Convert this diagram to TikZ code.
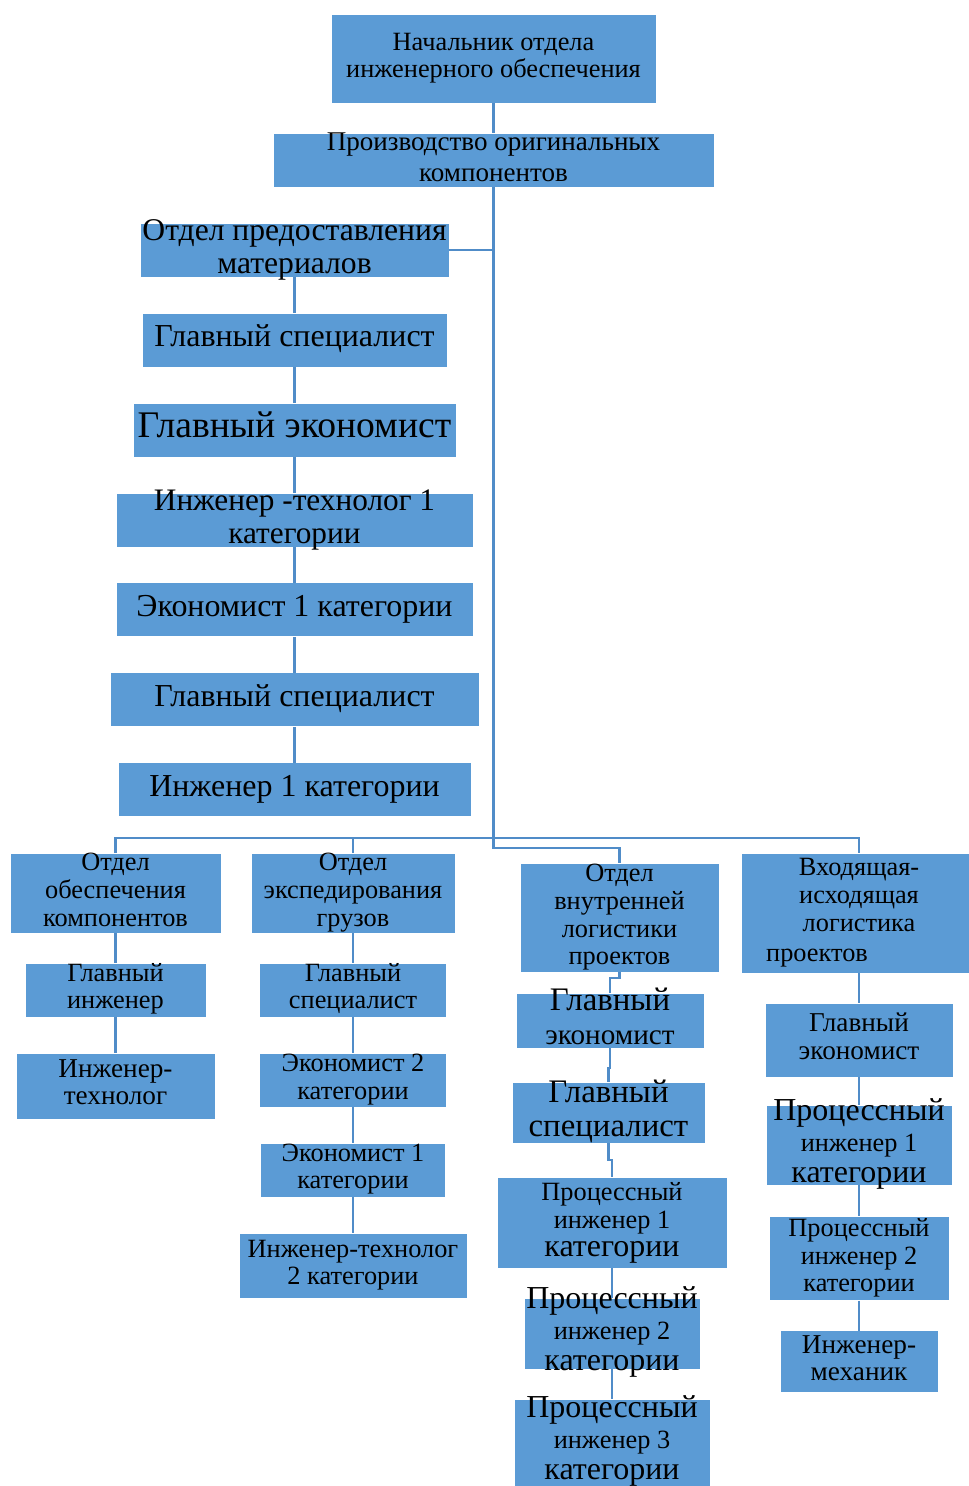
\documentclass[tikz,border=0pt]{standalone}
\usepackage{fontspec}
\setmainfont{Liberation Serif}
\usetikzlibrary{positioning}
\definecolor{boxblue}{RGB}{91,155,213}
\definecolor{lineblue}{RGB}{80,140,200}
% text centred in a box of fixed size, may overflow it
\newcommand{\boxtext}[3]{\raisebox{\dimexpr(\depth-\height)/2\relax}[0pt][0pt]{\fontsize{#1}{#2}\selectfont\begin{tabular}{@{}c@{}}#3\end{tabular}}}
\newcommand{\bigline}[1]{{\fontsize{18.2}{19}\selectfont #1}}

\begin{document}
\begin{tikzpicture}[
    x=0.02cm, y=-0.02cm,
    node distance=0.72cm,
    box/.style={rectangle, draw=white, line width=0.5pt, fill=boxblue, inner sep=0pt, outer sep=0pt, text=black},
    link/.style={draw=lineblue, line width=1.4pt}
]
    \useasboundingbox (0,0) rectangle (968,1486);

    % top of the tree
    \node (boss) [box, minimum width=6.5cm, minimum height=1.78cm] at (493.5,58.5) {\boxtext{15}{15.4}{Начальник отдела\\инженерного обеспечения}};
    \node (prod) [box, minimum width=8.82cm, minimum height=1.08cm] at (493.5,160) {\boxtext{15.4}{17.6}{Производство оригинальных\\компонентов}};

    % left chain
    \node (otd) [box, minimum width=6.18cm, minimum height=1.08cm] at (294.5,250) {\boxtext{18}{18.8}{Отдел предоставления\\материалов}};
    \node (gs1) [box, minimum width=6.1cm, minimum height=1.08cm, below=of otd] {\boxtext{18.2}{19}{Главный специалист}};
    \node (ge1) [box, minimum width=6.46cm, minimum height=1.08cm, below=of gs1] {\boxtext{21.4}{22}{Главный экономист}};
    \node (it1) [box, minimum width=7.14cm, minimum height=1.08cm, below=of ge1] {\boxtext{17.8}{18.8}{Инженер -технолог 1\\категории}};
    \node (ek1) [box, minimum width=7.14cm, minimum height=1.08cm, below=of it1] {\boxtext{18.2}{19}{Экономист 1 категории}};
    \node (gs2) [box, minimum width=7.38cm, minimum height=1.08cm, below=of ek1] {\boxtext{18.2}{19}{Главный специалист}};
    \node (in1) [box, minimum width=7.06cm, minimum height=1.08cm, below=of gs2] {\boxtext{18.2}{19}{Инженер 1 категории}};

    % column 1
    \node (ob) [box, minimum width=4.22cm, minimum height=1.6cm] at (115.5,893) {\boxtext{15}{15.9}{Отдел\\обеспечения\\компонентов}};
    \node (gi) [box, minimum width=3.62cm, minimum height=1.08cm, below=0.6cm of ob] {\boxtext{15}{15.4}{Главный\\инженер}};
    \node (it) [box, minimum width=3.98cm, minimum height=1.32cm, below=of gi] {\boxtext{15.5}{15.4}{Инженер-\\технолог}};

    % column 2
    \node (ex) [box, minimum width=4.08cm, minimum height=1.6cm] at (353,893) {\boxtext{15}{15.9}{Отдел\\экспедирования\\грузов}};
    \node (gs) [box, minimum width=3.74cm, minimum height=1.08cm, below=0.6cm of ex] {\boxtext{15}{15.4}{Главный\\специалист}};
    \node (ek2) [box, minimum width=3.74cm, minimum height=1.08cm, below=of gs] {\boxtext{15}{15.9}{Экономист 2\\категории}};
    \node (ek3) [box, minimum width=3.7cm, minimum height=1.08cm, below=of ek2] {\boxtext{15}{15.4}{Экономист 1\\категории}};
    \node (it2) [box, minimum width=4.56cm, minimum height=1.32cm, below=of ek3] {\boxtext{15}{15.4}{Инженер-технолог\\2 категории}};

    % column 3
    \node (vn) [box, minimum width=3.98cm, minimum height=2.18cm] at (619.5,917.5) {\boxtext{15}{15.9}{Отдел\\внутренней\\логистики\\проектов}};
    \node (ge) [box, minimum width=3.76cm, minimum height=1.1cm] at (610,1020.5) {\boxtext{16.6}{19.4}{{\fontsize{18.7}{19.4}\selectfont Главный}\\экономист}};
    \node (gsp) [box, minimum width=3.86cm, minimum height=1.22cm] at (608.5,1112.5) {\boxtext{18.7}{19.4}{Главный\\специалист}};
    \node (pp1) [box, minimum width=4.6cm, minimum height=1.82cm] at (612,1222.5) {\boxtext{15}{15.9}{Процессный\\инженер 1\\\bigline{категории}}};
    \node (pp2) [box, minimum width=3.52cm, minimum height=1.42cm] at (612,1333.5) {\boxtext{15}{17.6}{\bigline{Процессный}\\инженер 2\\\bigline{категории}}};
    \node (pp3) [box, minimum width=3.92cm, minimum height=1.74cm] at (612,1442.5) {\boxtext{15}{17.6}{\bigline{Процессный}\\инженер 3\\\bigline{категории}}};

    % column 4
    \node (vh) [box, minimum width=4.72cm, minimum height=2.4cm] at (859,913) {\boxtext{15}{15.9}{Входящая-\\исходящая\\логистика\\[1pt]проектов\hspace*{1.68cm}}};
    \node (ge4) [box, minimum width=3.76cm, minimum height=1.48cm, below=0.6cm of vh] {\boxtext{15.5}{15.9}{Главный\\экономист}};
    \node (pi1) [box, minimum width=3.72cm, minimum height=1.6cm, below=0.56cm of ge4] {\boxtext{15}{17.6}{\bigline{Процессный}\\инженер 1\\\bigline{категории}}};
    \node (pi2) [box, minimum width=3.6cm, minimum height=1.7cm, below=0.62cm of pi1] {\boxtext{15}{15.9}{Процессный\\инженер 2\\категории}};
    \node (im) [box, minimum width=3.16cm, minimum height=1.24cm, below=0.6cm of pi2] {\boxtext{15.5}{15.4}{Инженер-\\механик}};

    % connectors
    \coordinate (bus) at (prod.south |- 0,838);
    \draw [link] (boss) -- (prod);
    \draw [link] (otd.east) -| (prod.south);
    \draw [link] (prod.south) -- (bus);
    \draw [link] (ob.north) |- (bus) -| (vh.north);
    \draw [link] (ex.north) -- (ex.north |- bus);
    \draw [link] (bus) -- ++(0,10) -| (vn.north);
    \foreach \a/\b in {otd/gs1, gs1/ge1, ge1/it1, it1/ek1, ek1/gs2, gs2/in1,
                       ob/gi, gi/it, ex/gs, gs/ek2, ek2/ek3, ek3/it2,
                       pp1/pp2, pp2/pp3, vh/ge4, ge4/pi1, pi1/pi2, pi2/im}
        \draw [link] (\a) -- (\b);
    \draw [link] (vn.south) -- ++(0,6) -| (ge.north);
    \draw [link] (ge.south) -- ++(0,20) -| (gsp.north);
    \draw [link] (gsp.south) -- ++(0,17) -| (pp1.north);
\end{tikzpicture}
\end{document}
